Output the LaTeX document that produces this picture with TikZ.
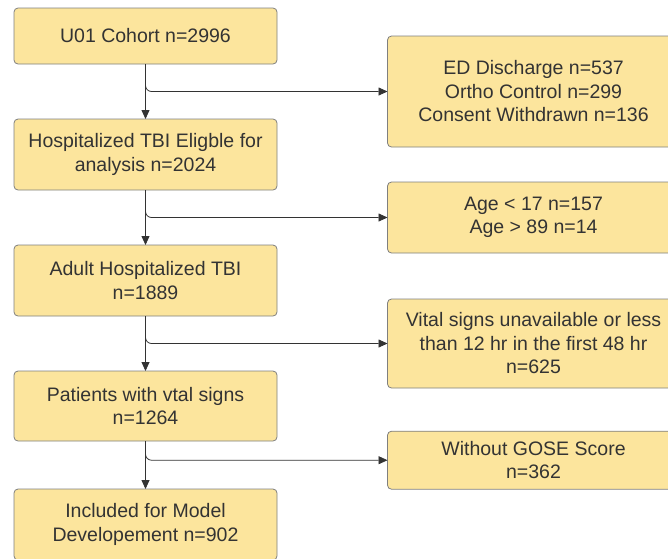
\documentclass[tikz,border=0pt]{standalone}
\usepackage{fontspec}
\setmainfont{Liberation Sans}
\usetikzlibrary{arrows.meta,positioning,calc}
\definecolor{boxfill}{HTML}{FCE59D}
\definecolor{boxline}{HTML}{7F7F7F}
\definecolor{ink}{HTML}{333333}

\begin{document}
\begin{tikzpicture}[
  x=1pt,y=1pt,
  font=\fontsize{19.5}{23.5}\selectfont,
  >={Triangle[length=9pt,width=8pt]},
  node distance=55pt and 242pt,
  box/.style={draw=boxline,fill=boxfill,rounded corners=4pt,line width=0.8pt,text=ink,align=center,inner sep=4pt,outer sep=0pt},
  main/.style={box,minimum width=263pt},
  side/.style={box,minimum width=292pt},
  flow/.style={draw=ink,line width=0.8pt,->}
]
\useasboundingbox (0,0) rectangle (668,-558);
% main column
\node[main,minimum height=56pt,anchor=north west] (cohort) at (14,-8)
  {U01 Cohort n=2996};
\node[main,minimum height=71pt,below=of cohort] (tbi)
  {Hospitalized TBI Eligble for\\analysis n=2024};
\node[main,minimum height=71pt,below=of tbi] (adult)
  {Adult Hospitalized TBI\\n=1889};
\node[main,minimum height=70pt,below=of adult] (vital)
  {Patients with vtal signs\\n=1264};
\node[main,minimum height=71pt,below=48pt of vital] (model)
  {Included for Model\\Developement n=902};

% branch points
\coordinate (b1) at ($(cohort.south)!0.5!(tbi.north)$);
\coordinate (b2) at ($(tbi.south)!0.5!(adult.north)$);
\coordinate (b3) at ($(adult.south)!0.5!(vital.north)$);
\coordinate (b4) at ($(vital.south)!0.4!(model.north)$);

% exclusions
\node[side,minimum height=111pt,right=of b1] (excl1)
  {ED Discharge n=537\\Ortho Control n=299\\Consent Withdrawn n=136};
\node[side,minimum height=71pt,right=of b2] (excl2)
  {Age < 17 n=157\\Age > 89 n=14};
\node[side,minimum height=89pt,right=of b3] (excl3)
  {Vital signs unavailable or less\\than 12 hr in the first 48 hr\\n=625};
\node[side,minimum height=58pt,right=of b4] (excl4)
  {Without GOSE Score\\n=362};

% connectors
\draw[flow] (cohort) -- (tbi);
\draw[flow] (tbi) -- (adult);
\draw[flow] (adult) -- (vital);
\draw[flow] (vital) -- (model);

\draw[flow,rounded corners=6pt] (cohort.south) |- (excl1.west);
\draw[flow,rounded corners=6pt] (tbi.south) |- (excl2.west);
\draw[flow,rounded corners=6pt] (adult.south) |- (excl3.west);
\draw[flow,rounded corners=6pt] (vital.south) |- (excl4.west);
\end{tikzpicture}
\end{document}
